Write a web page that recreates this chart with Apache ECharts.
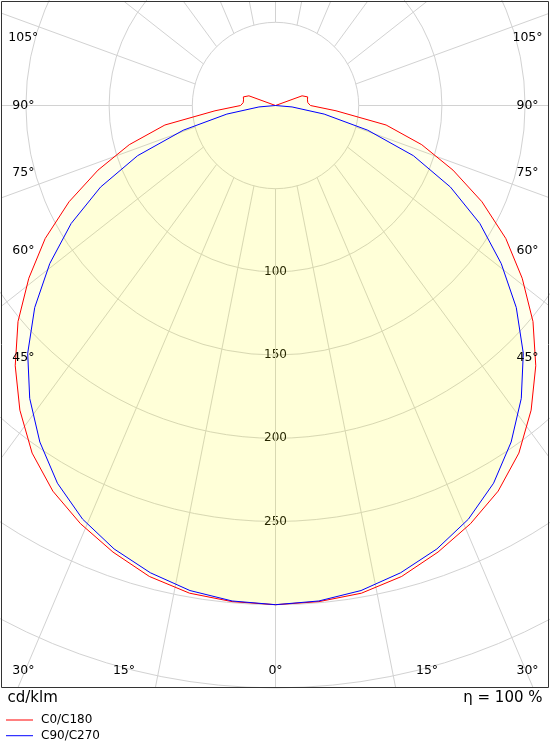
<!DOCTYPE html>
<html><head><meta charset="utf-8">
<script src="https://cdn.jsdelivr.net/npm/echarts@6/dist/echarts.min.js"></script>
<style>html,body{margin:0;padding:0;background:#fff}#c{width:550px;height:750px}</style>
</head><body><div id="c"></div>
<script>
// ---- data ----
const gammaAngles = [0,5,10,15,20,25,30,35,40,45,50,55,60,65,70,75,80,85,90,95,100,105,110,115,120,125,130,135,140,145,150,155,160,165,170,175,180];
const c0c180 =     [300,299.3,297.6,293,285.6,277.3,267.6,255,239,221.2,202,181,159.8,136.9,113.5,91,67.5,36.5,21,19.5,19.5,20,17,0,0,0,0,0,0,0,0,0,0,0,0,0,0];
const c90c270 =    [300,298.9,296,290.7,283.6,274.3,262.1,246.9,229.8,210.6,188.9,165.6,141.8,116,88.2,57.4,29.7,10,0,0,0,0,0,0,0,0,0,0,0,0,0,0,0,0,0,0,0];
const seriesNames = ['C0/C180','C90/C270'];
const radiusTicks = [100,150,200,250];
const angleTicks = [0,15,30,45,60,75,90,105];
const gridAngles = [0,15,30,45,60,75,90,105,120,135,150,165,180,195,210,225,240,255,270,285,300,315,330,345];
const unitText = 'cd/klm';
const effText = 'η = 100 %';

// ---- layout / style ----
const CX = 275.5, CY = 105.5, PX_PER_UNIT = 1.664, R_MAX = 350, R_STEP = 50, GRID_INNER = 50;
const SKEW = 750/550;
const FRAME = {x1:1.5, y1:1.5, x2:548.5, y2:687.5};
const LBL = {left:23.3, right:527.5, bottom:671};
const GRID_COLOR = '#d2d2d2';
const FONT = '"DejaVu Sans", Verdana, sans-serif';

function halfCurve(values){
  const pts = [];
  for (let i = gammaAngles.length-1; i >= 0; i--) pts.push([values[i], gammaAngles[i]]);
  for (let i = 1; i < gammaAngles.length; i++) pts.push([values[i], 360 - gammaAngles[i]]);
  return pts;
}

const angleLabelEls = [];
angleTicks.forEach(g => {
  const sides = g === 0 ? [0] : [-1, 1];
  sides.forEach(s => {
    const rad = g*Math.PI/180;
    let x, y;
    if (g < 45) {
      y = LBL.bottom;
      x = CX + s*(LBL.bottom - CY)*Math.tan(rad);
      x = Math.max(LBL.left, Math.min(LBL.right, x));
    } else {
      x = s < 0 ? LBL.left : LBL.right;
      y = CY + (CX - LBL.left)*Math.cos(rad)/Math.sin(rad);
    }
    angleLabelEls.push({type:'text', x, y, z:50, silent:true,
      style:{text: g + '°', fill:'#000', fontSize:12.5, fontFamily:FONT, align:'center', verticalAlign:'middle'}});
  });
});

const chart = echarts.init(document.getElementById('c'), null, {renderer:'canvas'});
const fill = 'rgba(255,255,0,0.11)';
chart.setOption({
  animation:false,
  backgroundColor:'#fff',
  polar:{center:[CX, CY], radius: R_MAX*PX_PER_UNIT},
  angleAxis:{type:'value', min:0, max:360, startAngle:270, clockwise:true,
    axisLine:{show:false}, axisTick:{show:false}, axisLabel:{show:false}, splitLine:{show:false}},
  radiusAxis:{type:'value', min:0, max:R_MAX, interval:R_STEP,
    axisLine:{show:false}, axisTick:{show:false},
    axisLabel:{margin:0, align:'center', verticalAlign:'middle', color:'#000', fontSize:12, fontFamily:FONT,
      showMinLabel:false, showMaxLabel:false,
      formatter: v => radiusTicks.includes(v) ? String(v) : ''},
    splitLine:{show:true, lineStyle:{color:GRID_COLOR, width:1}}},
  legend:{orient:'vertical', left:6, top:714, padding:0, itemWidth:27, itemHeight:12, itemGap:3.7,
    icon:'path://M0,0H27V1H0Z', symbolKeepAspect:true,
    data:seriesNames,
    textStyle:{fontSize:12, fontFamily:FONT, color:'#000', padding:[0,0,0,3]}},
  graphic:[
    {type:'rect', z:100, silent:true, shape:{x:FRAME.x1, y:FRAME.y1, width:FRAME.x2-FRAME.x1, height:FRAME.y2-FRAME.y1},
      style:{fill:'none', stroke:'#333', lineWidth:1}},
    {type:'text', x:7.5, y:698, silent:true, style:{text:unitText, fill:'#000', fontSize:15, fontFamily:FONT, align:'left', verticalAlign:'middle'}},
    {type:'text', x:542.5, y:698, silent:true, style:{text:effText, fill:'#000', fontSize:15, fontFamily:FONT, align:'right', verticalAlign:'middle'}},
    ...angleLabelEls
  ],
  series:[
    {type:'custom', coordinateSystem:'polar', z:1, silent:true,
      data: gridAngles.map(a => [GRID_INNER, a]),
      renderItem(params, api){
        const a = api.value(1);
        const p0 = api.coord([api.value(0), a]);
        const c = api.coord([0, a]);
        const dx = p0[0]-c[0], dy = (p0[1]-c[1])*SKEW;
        let t = Infinity;
        if (dx > 1e-9) t = Math.min(t, (FRAME.x2-p0[0])/dx);
        if (dx < -1e-9) t = Math.min(t, (FRAME.x1-p0[0])/dx);
        if (dy > 1e-9) t = Math.min(t, (FRAME.y2-p0[1])/dy);
        if (dy < -1e-9) t = Math.min(t, (FRAME.y1-p0[1])/dy);
        return {type:'line', shape:{x1:p0[0], y1:p0[1], x2:p0[0]+dx*t, y2:p0[1]+dy*t},
          style:{stroke:GRID_COLOR, lineWidth:1}};
      }},
    {name:seriesNames[0], type:'line', coordinateSystem:'polar', z:3, data:halfCurve(c0c180),
      symbol:'none', color:'#ff0000', lineStyle:{color:'#ff0000', width:1}, areaStyle:{color:fill}},
    {name:seriesNames[1], type:'line', coordinateSystem:'polar', z:4, data:halfCurve(c90c270),
      symbol:'none', color:'#0000ff', lineStyle:{color:'#0000ff', width:1}, areaStyle:{color:fill}}
  ]
});
</script></body></html>
